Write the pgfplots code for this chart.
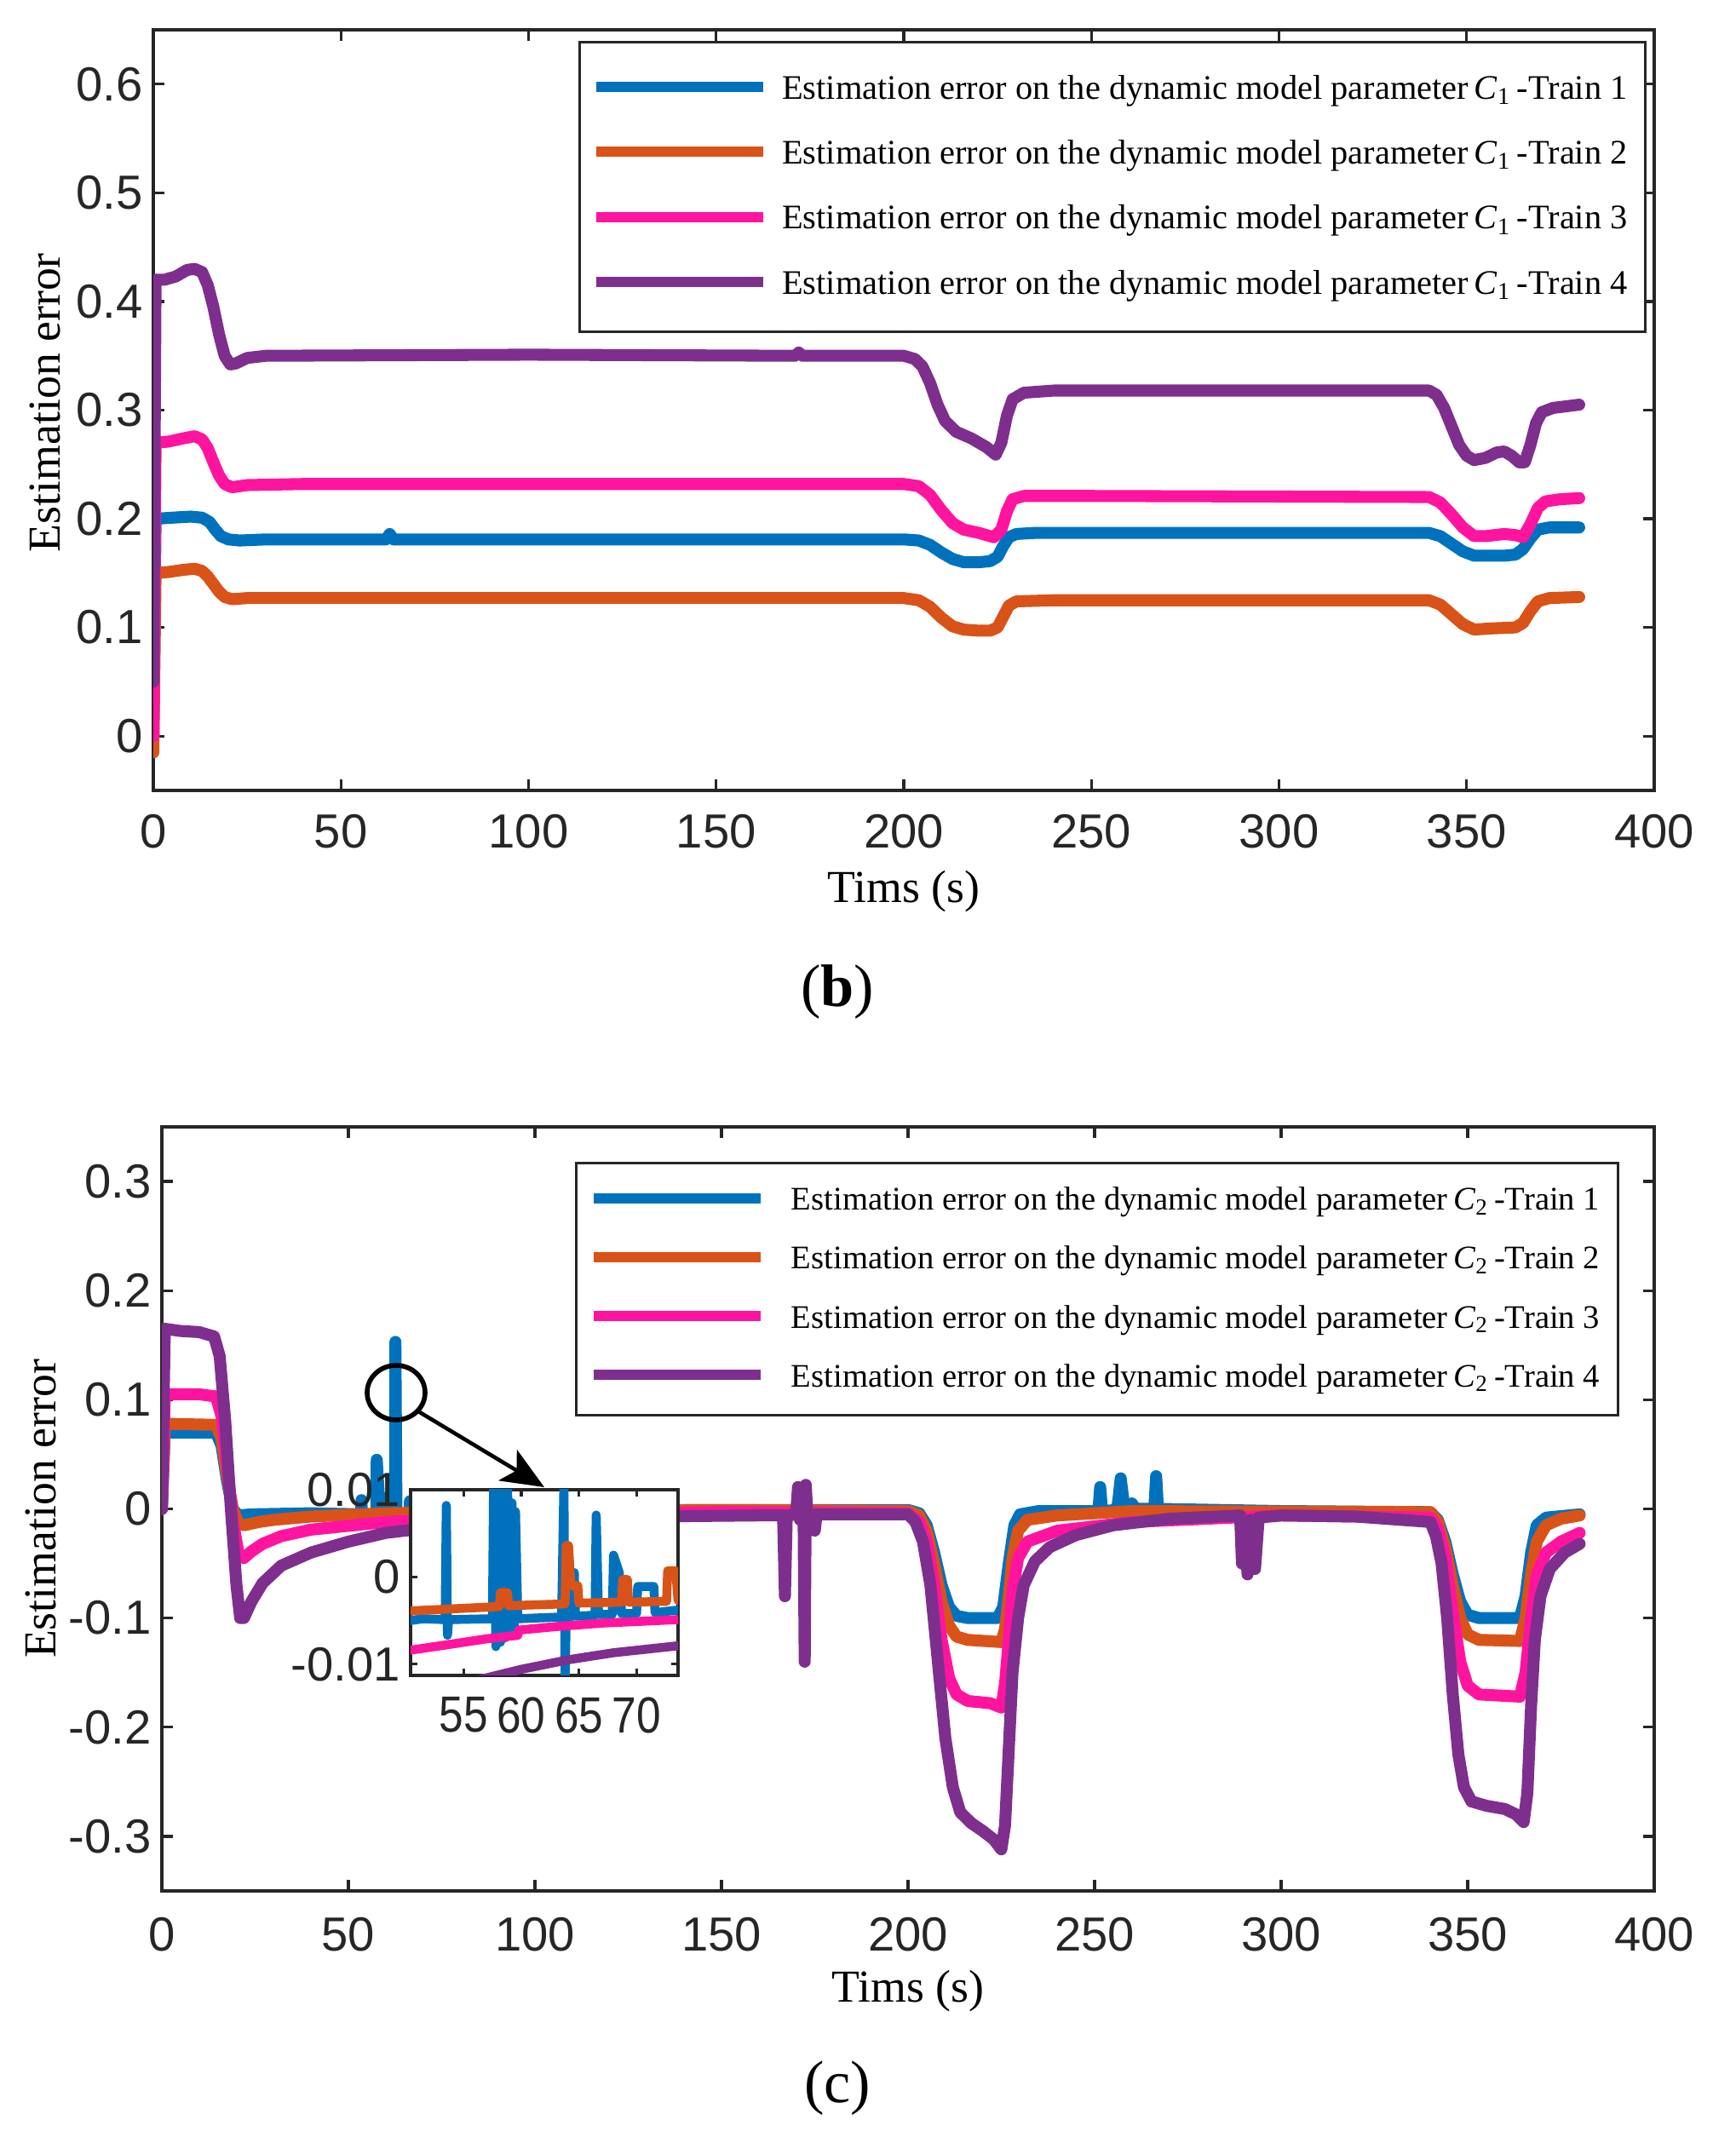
\documentclass[border=0pt]{standalone}
\usepackage{fontspec}
\setmainfont{Liberation Serif}
\newfontfamily\arialfont{Liberation Sans}
\newfontfamily\arialcond{Liberation Sans}[FakeStretch=0.86]
\usepackage{pgfplots}
\pgfplotsset{compat=1.18}
\usetikzlibrary{arrows.meta}

\definecolor{c1}{RGB}{0,114,189}
\definecolor{c2}{RGB}{217,83,25}
\definecolor{c3}{RGB}{255,20,160}
\definecolor{c4}{RGB}{126,47,142}
\definecolor{axgray}{RGB}{38,38,38}

\newcommand{\entry}[2]{Estimation error on the dynamic model parameter\,\textit{C}\textsubscript{#1}\,-Train #2}

\pgfplotsset{
  matlab/.style={
    scale only axis,
    axis line style={axgray, line width=0.9pt},
    every tick/.style={axgray, line width=0.9pt},
    tick align=inside,
    major tick length=0.13cm,
    ticklabel style={font=\arialfont\fontsize{16}{19}\selectfont, text=axgray},
    /pgf/number format/assume math mode=true,
    scaled ticks=false,
    label style={font=\fontsize{15.3}{18}\selectfont},
  },
  curve/.style={line width=4pt, line join=round, line cap=round},
  mylegend/.style={
    legend cell align=left,
    legend style={draw=axgray, line width=0.9pt, fill=white,
      inner xsep=0.14cm},
  },
}

\begin{document}
\begin{tikzpicture}
\useasboundingbox (0,0) rectangle (20.37,25.23);

% ---------------- (b) ----------------
\begin{axis}[matlab, mylegend,
  at={(1.80cm,15.95cm)}, anchor=south west,
  width=17.62cm, height=8.93cm,
  xmin=0, xmax=400, ymin=-0.05, ymax=0.65,
  xtick={0,50,...,400}, ytick={0,0.1,...,0.6},
  xticklabel style={yshift=-0.16cm},
  yticklabel style={/pgf/number format/fixed, /pgf/number format/precision=1},
  xlabel={Tims (s)}, ylabel={Estimation error},
  xlabel style={at={(axis description cs:0.5,0)}, anchor=center, yshift=-1.19cm},
  ylabel style={at={(axis description cs:-0.072,0.51)}, anchor=center},
  legend style={at={(0.283,0.986)}, anchor=north west,
    font=\fontsize{11.5}{13.5}\selectfont, row sep=0.29cm, inner ysep=0.32cm},
  legend image code/.code={\draw[#1, line width=3.4pt, line cap=butt] (0cm,0.03cm) -- (1.96cm,0.03cm); \path (2.04cm,0cm);},
]
\addplot[c1, curve] coordinates {
 (0,0.0) (0.6,0.2) (5,0.201) (10,0.202) (13,0.201) (15,0.197) (16.5,0.19) (18,0.184)
 (20,0.181) (23,0.18) (30,0.181) (62,0.181) (63,0.186) (64,0.181) (100,0.181) (150,0.181)
 (200,0.181) (204,0.18) (207,0.176) (210,0.169) (213,0.163) (216,0.16) (220,0.16)
 (223,0.161) (225,0.165) (226.5,0.175) (228,0.183) (230,0.186) (235,0.187) (300,0.187)
 (340,0.187) (343,0.184) (346,0.177) (349,0.17) (352,0.166) (360,0.166) (363,0.167)
 (365,0.172) (367,0.182) (369,0.19) (372,0.192) (380,0.192)
};
\addplot[c2, curve] coordinates {
 (0,-0.015) (0.6,0.15) (4,0.151) (8,0.153) (11,0.154) (13,0.152) (14.5,0.147) (16,0.14)
 (17.5,0.133) (19,0.128) (21,0.126) (25,0.127) (200,0.127) (204,0.125) (207,0.119)
 (210,0.109) (213,0.101) (216,0.098) (220,0.097) (223,0.097) (225,0.1) (226.5,0.11)
 (228,0.12) (230,0.124) (240,0.125) (340,0.125) (343,0.121) (346,0.112) (349,0.103)
 (352,0.098) (356,0.099) (363,0.1) (365,0.104) (367,0.115) (369,0.124) (372,0.127)
 (380,0.128)
};
\addplot[c3, curve] coordinates {
 (0,0) (0.6,0.27) (4,0.271) (8,0.274) (11,0.276) (13,0.273) (14.5,0.265) (16,0.252)
 (17.5,0.24) (19,0.232) (21,0.229) (25,0.231) (40,0.232) (200,0.232) (204,0.23)
 (207,0.222) (210,0.208) (213,0.196) (216,0.19) (220,0.187) (224,0.183) (226,0.19)
 (227.5,0.207) (229,0.218) (232,0.221) (250,0.221) (340,0.22) (343,0.215) (346,0.204)
 (349,0.192) (352,0.184) (355,0.184) (360,0.186) (363,0.185) (365,0.183) (367,0.195)
 (369,0.21) (371,0.216) (375,0.218) (380,0.219)
};
\addplot[c4, curve] coordinates {
 (0,0.05) (0.6,0.42) (3,0.42) (6,0.423) (9,0.429) (11,0.43) (13,0.427) (14.5,0.415)
 (16,0.395) (17.5,0.37) (19,0.35) (20.5,0.342) (22,0.343) (25,0.348) (30,0.35)
 (100,0.351) (171,0.35) (172,0.353) (173,0.35) (200,0.35) (203,0.347) (205,0.34)
 (207,0.325) (209,0.305) (211,0.29) (214,0.28) (218,0.274) (222,0.266) (224.5,0.259)
 (226,0.27) (227.5,0.295) (229,0.31) (232,0.316) (240,0.318) (340,0.318) (342,0.314)
 (344,0.302) (346,0.285) (348,0.268) (350,0.258) (352,0.254) (355,0.256) (358,0.261)
 (360,0.262) (362,0.258) (364,0.252) (365.5,0.252) (367,0.268) (368.5,0.288)
 (370,0.298) (373,0.302) (380,0.305)
};
\legend{\entry{1}{1}, \entry{1}{2}, \entry{1}{3}, \entry{1}{4}}
\end{axis}

% ---------------- (c) ----------------
\begin{axis}[matlab, mylegend,
  at={(1.90cm,3.03cm)}, anchor=south west,
  width=17.52cm, height=8.97cm,
  xmin=0, xmax=400, ymin=-0.35, ymax=0.35,
  xtick={0,50,...,400}, ytick={-0.3,-0.2,...,0.3},
  xticklabel style={yshift=-0.19cm},
  yticklabel style={/pgf/number format/fixed, /pgf/number format/precision=1},
  xlabel={Tims (s)}, ylabel={Estimation error},
  xlabel style={at={(axis description cs:0.5,0)}, anchor=center, yshift=-1.18cm},
  ylabel style={at={(axis description cs:-0.081,0.5)}, anchor=center},
  legend style={at={(0.277,0.954)}, anchor=north west,
    font=\fontsize{11}{13}\selectfont, row sep=0.23cm, inner ysep=0.21cm},
  legend image code/.code={\draw[#1, line width=3.4pt, line cap=butt] (0cm,0.03cm) -- (1.96cm,0.03cm); \path (2.18cm,0cm);},
]
\addplot[c1, curve] coordinates {
 (0,0) (0.8,0.07) (10,0.07) (14.5,0.07) (16,0.058) (17.5,0.025) (19,0.0) (20.5,-0.006)
 (24,-0.005) (40,-0.004) (53.4,-0.005) (53.5,0.008) (53.6,-0.006) (57.5,-0.005)
 (57.6,0.045) (58.5,-0.008) (59.3,0.01) (59.6,-0.005) (62.5,-0.005) (62.6,0.153)
 (62.9,-0.012) (63.1,-0.005) (66.4,-0.005) (66.5,0.007) (66.6,-0.004) (100,-0.002)
 (150,-0.001) (200,-0.001) (203,-0.004) (205,-0.015) (207,-0.04) (209,-0.07) (211,-0.09)
 (213,-0.098) (216,-0.1) (224,-0.1) (225.5,-0.09) (227,-0.05) (228.5,-0.015) (230,-0.005)
 (235,-0.002) (251,-0.002) (251.5,0.02) (252,-0.002) (256,-0.001) (256.5,0.012)
 (257,0.028) (258,0.0) (260,0.005) (261,0.0) (266,0.0) (266.5,0.03) (267,0.0)
 (300,-0.002) (340,-0.003) (342,-0.01) (344,-0.03) (346,-0.06) (348,-0.085) (350,-0.097)
 (353,-0.1) (364,-0.1) (365.5,-0.08) (367,-0.04) (368.5,-0.015) (371,-0.008) (380,-0.005)
};
\addplot[c2, curve] coordinates {
 (0,0) (0.8,0.078) (14.5,0.077) (16,0.065) (17.5,0.03) (19,0.0) (20.5,-0.013)
 (22,-0.015) (26,-0.012) (30,-0.01) (40,-0.007) (60,-0.004) (100,-0.002) (150,-0.001)
 (200,-0.002) (203,-0.006) (205,-0.02) (207,-0.05) (209,-0.085) (211,-0.107) (213,-0.117)
 (216,-0.12) (225,-0.122) (226,-0.11) (227,-0.08) (228,-0.045) (229.5,-0.02) (232,-0.01)
 (240,-0.006) (260,-0.002) (340,-0.003) (342,-0.012) (344,-0.035) (346,-0.07) (348,-0.1)
 (350,-0.115) (353,-0.12) (364,-0.121) (365.5,-0.1) (367,-0.06) (368.5,-0.03) (371,-0.015)
 (375,-0.009) (380,-0.006)
};
\addplot[c3, curve] coordinates {
 (0,0) (0.8,0.105) (10,0.105) (14.5,0.103) (16,0.085) (17.5,0.04) (19,-0.01)
 (20.5,-0.04) (22,-0.045) (24,-0.039) (27,-0.032) (32,-0.025) (40,-0.019) (60,-0.012)
 (100,-0.006) (150,-0.003) (200,-0.004) (203,-0.012) (205,-0.03) (207,-0.07) (209,-0.12)
 (211,-0.155) (213,-0.17) (216,-0.176) (222,-0.178) (225,-0.182) (226,-0.16) (227,-0.12)
 (228,-0.075) (229.5,-0.045) (232,-0.03) (240,-0.02) (260,-0.012) (300,-0.006)
 (340,-0.008) (342,-0.018) (344,-0.045) (346,-0.095) (348,-0.14) (350,-0.162) (353,-0.17)
 (364,-0.172) (365.5,-0.15) (367,-0.1) (368.5,-0.06) (371,-0.04) (375,-0.03) (380,-0.022)
};
\addplot[c4, curve] coordinates {
 (0,0) (0.8,0.165) (5,0.163) (10,0.162) (14,0.158) (15.5,0.14) (17,0.08) (18.5,0.0)
 (20,-0.07) (21,-0.1) (22,-0.1) (24,-0.085) (27,-0.068) (32,-0.052) (40,-0.04)
 (50,-0.03) (60,-0.022) (80,-0.014) (100,-0.01) (130,-0.007) (160,-0.006) (166.5,-0.006)
 (167,-0.08) (167.5,-0.006) (170,-0.005) (170.5,0.02) (171,-0.01) (172,-0.005)
 (172.3,-0.14) (172.6,0.022) (173,-0.006) (175,-0.02) (175.5,-0.005) (200,-0.005)
 (202,-0.012) (204,-0.03) (206,-0.07) (208,-0.14) (210,-0.21) (212,-0.255) (214,-0.278)
 (217,-0.288) (220,-0.295) (223,-0.303) (225,-0.312) (226,-0.29) (227,-0.22) (228,-0.15)
 (229.5,-0.1) (231,-0.07) (234,-0.048) (238,-0.035) (245,-0.024) (255,-0.015)
 (270,-0.009) (289,-0.006) (289.5,-0.05) (290,-0.01) (291,-0.06) (292,-0.01) (293,-0.055)
 (294,-0.008) (300,-0.006) (320,-0.007) (340,-0.012) (341.5,-0.025) (343,-0.05)
 (344.5,-0.1) (346,-0.17) (347.5,-0.225) (349,-0.255) (351,-0.268) (355,-0.272)
 (360,-0.275) (363,-0.28) (365,-0.287) (366,-0.26) (367,-0.18) (368,-0.12) (369.5,-0.08)
 (372,-0.055) (376,-0.04) (380,-0.032)
};
\legend{\entry{2}{1}, \entry{2}{2}, \entry{2}{3}, \entry{2}{4}}
\end{axis}

% ---------------- inset ----------------
\begin{axis}[matlab,
  at={(4.82cm,5.56cm)}, anchor=south west,
  width=3.14cm, height=2.18cm,
  xmin=50.4, xmax=73.6, ymin=-0.0113, ymax=0.0100,
  xtick={55,60,65,70}, ytick={-0.01,0,0.01},
  major tick length=0.08cm,
  xticklabel style={yshift=-0.13cm, font=\arialcond\fontsize{17}{20}\selectfont},
  yticklabel style={/pgf/number format/fixed, /pgf/number format/precision=2},
  axis background/.style={fill=white},
]
\addplot[c1, curve, line width=3pt] coordinates {
 (50.4,-0.0050) (51.5,-0.0048) (53.4,-0.0049) (53.5,0.0082) (53.6,-0.0067) (53.7,-0.0049)
 (57.5,-0.0048) (57.6,0.011) (57.8,-0.0080) (58.0,0.011) (58.2,-0.0075) (58.4,0.011)
 (58.6,-0.0070) (58.8,0.011) (59.0,-0.0060) (59.2,0.0085) (59.4,-0.0060) (59.5,0.0075)
 (59.7,-0.0048) (63.5,-0.0046) (63.7,0.011) (63.8,-0.012) (63.9,-0.0046) (64.5,-0.0045)
 (64.6,0.0005) (64.7,-0.0045) (66.4,-0.0044) (66.5,0.0071) (66.7,-0.0043) (67.9,-0.0043)
 (68.0,0.0025) (68.5,0.0005) (68.7,-0.0042) (70.0,-0.0042) (70.1,-0.0011) (71.5,-0.0011)
 (71.6,-0.0041) (73.6,-0.0038)
};
\addplot[c2, curve, line width=3pt] coordinates {
 (50.4,-0.0039) (55,-0.0036) (58.1,-0.0034) (58.2,-0.0018) (58.8,-0.0018) (58.9,-0.0033)
 (63.8,-0.0031) (63.9,0.0036) (64.1,0.0036) (64.3,-0.0010) (64.9,-0.0010) (65.0,-0.0030)
 (68.7,-0.0029) (68.8,-0.0003) (69.2,-0.0003) (69.3,-0.0029) (72.6,-0.0028) (72.7,0.0007)
 (73.4,0.0007) (73.6,-0.0027)
};
\addplot[c3, curve, line width=3pt] coordinates {
 (50.4,-0.0084) (54,-0.0077) (57,-0.0071) (59.7,-0.0067) (59.8,-0.0061) (63,-0.0057)
 (67,-0.0053) (73.6,-0.0049)
};
\addplot[c4, curve, line width=3pt] coordinates {
 (56.3,-0.0118) (60,-0.0106) (64.1,-0.0095) (68,-0.0087) (73.6,-0.0079)
};
\end{axis}

% zoom marker
\draw[black, line width=1.6pt] (4.65,8.88) ellipse [x radius=0.34cm, y radius=0.32cm];
\draw[black, line width=1.3pt, -{Stealth[length=0.5cm, width=0.42cm, inset=0.12cm]}] (4.91,8.66) -- (6.39,7.77);

\node[font=\fontsize{20}{24}\selectfont] at (9.83,13.58) {(\textbf{b})};
\node[font=\fontsize{20}{24}\selectfont] at (9.83,0.71) {(c)};
\end{tikzpicture}
\end{document}
